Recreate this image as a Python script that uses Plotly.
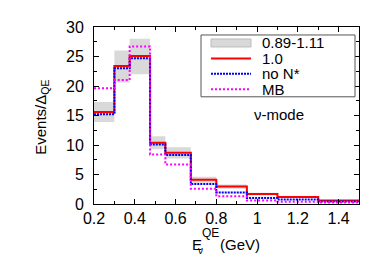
import plotly.graph_objects as go

# ---- data ----
bin_edges = [0.2, 0.3, 0.375, 0.475, 0.55, 0.675, 0.8, 0.95, 1.1, 1.3, 1.5]
band_low = [13.9, 20.6, 22.0, 9.3, 7.7, 3.6, 2.6, 1.5, 1.05, 0.52]
band_high = [17.3, 26.0, 28.0, 11.5, 9.6, 4.6, 3.3, 1.9, 1.35, 0.67]
val_10 = [15.6, 23.4, 25.1, 10.4, 8.7, 4.1, 2.97, 1.7, 1.2, 0.6]
val_noNstar = [15.2, 23.0, 24.7, 10.1, 8.3, 3.4, 1.95, 1.0, 0.76, 0.42]
val_MB = [19.6, 21.0, 26.7, 8.4, 6.7, 2.6, 1.3, 0.6, 0.37, 0.25]
legend_labels = ["0.89-1.11", "1.0", "no N*", "MB"]
x_tickvals = [0.2, 0.4, 0.6, 0.8, 1.0, 1.2, 1.4]
x_ticktext = ["0.2", "0.4", "0.6", "0.8", "1", "1.2", "1.4"]
y_tickvals = [0, 5, 10, 15, 20, 25, 30]

FONT = "Liberation Sans, Arial, sans-serif"
W, H = 374, 262
L, R, T, B = 86, 351, 19, 196.5


def step(v):
    return list(v) + [v[-1]]


fig = go.Figure()
fig.add_trace(go.Scatter(x=bin_edges, y=step(band_low), mode="lines", line=dict(width=0, shape="hv"),
                         showlegend=False, hoverinfo="skip"))
fig.add_trace(go.Scatter(x=bin_edges, y=step(band_high), mode="lines", line=dict(width=0, shape="hv"),
                         fill="tonexty", fillcolor="rgb(217,217,217)", showlegend=False))
fig.add_trace(go.Scatter(x=bin_edges, y=step(val_10), mode="lines",
                         line=dict(color="#ff0000", width=2, shape="hv"), showlegend=False))
fig.add_trace(go.Scatter(x=bin_edges, y=step(val_noNstar), mode="lines",
                         line=dict(color="#0000ff", width=2, shape="hv", dash="2px,1px"), showlegend=False))
fig.add_trace(go.Scatter(x=bin_edges, y=step(val_MB), mode="lines",
                         line=dict(color="#ff00ff", width=2, shape="hv", dash="2px,2px"), showlegend=False))


def px(x):
    return (x - L) / (R - L)


def py(y):
    return (B - y) / (B - T)


def txt(x, y, s, size, xanchor="left", angle=0):
    return dict(xref="paper", yref="paper", x=px(x), y=py(y), text=s, showarrow=False, textangle=angle,
                xanchor=xanchor, yanchor="middle", font=dict(family=FONT, size=size, color="black"))


shapes = []
annotations = []
# legend box
shapes.append(dict(type="rect", xref="paper", yref="paper", x0=px(193), x1=px(347), y0=py(89), y1=py(27),
                   line=dict(color="#555555", width=1), fillcolor="white", layer="above"))
rows = [35, 50.5, 66, 81.5]
sx0, sx1 = 203, 243
shapes.append(dict(type="rect", xref="paper", yref="paper", x0=px(sx0), x1=px(sx1), y0=py(39), y1=py(31),
                   line=dict(color="#bbbbbb", width=1), fillcolor="rgb(217,217,217)", layer="above"))
styles = [dict(color="#ff0000", width=2), dict(color="#0000ff", width=2, dash="2px,1px"),
          dict(color="#ff00ff", width=2, dash="2px,2px")]
for r, st in zip(rows[1:], styles):
    shapes.append(dict(type="line", xref="paper", yref="paper", x0=px(sx0), x1=px(sx1), y0=py(r), y1=py(r),
                       line=st, layer="above"))
for r, lab in zip(rows, legend_labels):
    annotations.append(txt(252, r, lab, 15))
annotations.append(txt(271, 107, "ν-mode", 15, xanchor="center"))

# axis titles
annotations.append(txt(182, 237, "E", 15))
annotations.append(txt(192, 226, "QE", 12))
annotations.append(txt(187.5, 243.5, "ν", 10))
annotations.append(txt(209.5, 237, "(GeV)", 15))
annotations.append(txt(34, 110, "Events/Δ<sub>QE</sub>", 15, xanchor="center", angle=-90))

fig.update_layout(
    width=W, height=H,
    margin=dict(l=L, r=W - R, t=T, b=H - B),
    plot_bgcolor="white", paper_bgcolor="white",
    font=dict(family=FONT, size=16, color="black"),
    shapes=shapes, annotations=annotations,
    xaxis=dict(range=[0.2, 1.5], tickvals=x_tickvals, ticktext=x_ticktext, ticks="inside", ticklen=5,
               tickcolor="black", showline=True, linecolor="black", linewidth=1, mirror="allticks",
               showgrid=False, zeroline=False, tickfont=dict(size=16),
               minor=dict(ticks="inside", ticklen=3, dtick=0.1, tick0=0.2, tickcolor="black", showgrid=False)),
    yaxis=dict(range=[0, 30], tickvals=y_tickvals, ticks="inside", ticklen=5, tickcolor="black",
               showline=True, linecolor="black", linewidth=1, mirror="allticks", showgrid=False, zeroline=False,
               tickfont=dict(size=16), ticklabelstandoff=6,
               minor=dict(ticks="inside", ticklen=3, dtick=2.5, tick0=0, tickcolor="black", showgrid=False)),
)

fig.write_html("out.html")
